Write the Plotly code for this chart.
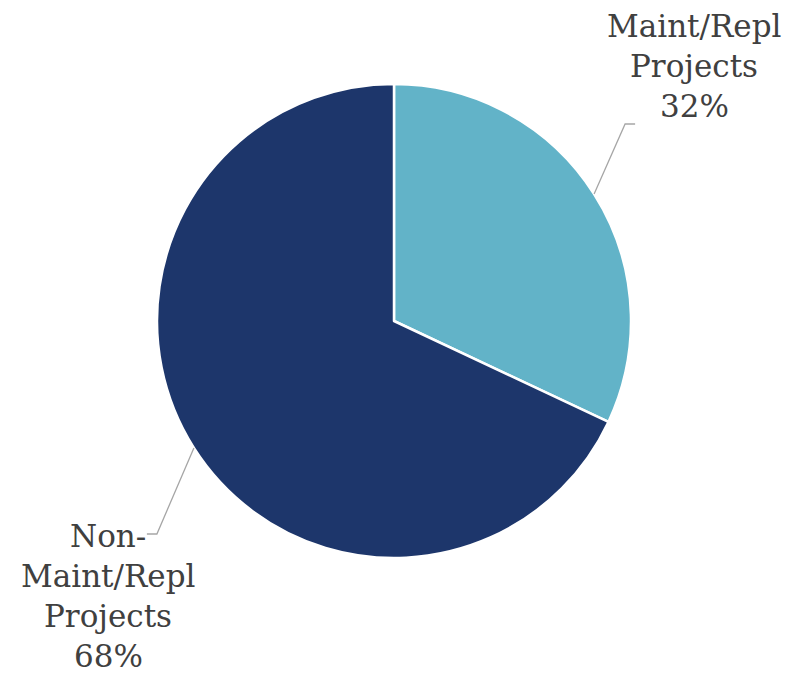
import math
import plotly.graph_objects as go

labels = ["Maint/Repl Projects", "Non-Maint/Repl Projects"]
values = [32, 68]
colors = ["#62B3C8", "#1D366B"]
label_lines = [["Maint/Repl", "Projects", "32%"], ["Non-", "Maint/Repl", "Projects", "68%"]]

W, H = 808, 676
dom_x = [157 / W, 631 / W]
dom_y = [1 - 558 / H, 1 - 84 / H]

fig = go.Figure(go.Pie(
    labels=labels, values=values, sort=False, direction="clockwise", rotation=0,
    marker=dict(colors=colors, line=dict(color="white", width=2.5)),
    textinfo="none", hoverinfo="label+percent", showlegend=False,
    domain=dict(x=dom_x, y=dom_y),
))

cx = (dom_x[0] + dom_x[1]) / 2 * W
cy = (1 - (dom_y[0] + dom_y[1]) / 2) * H
r = min((dom_x[1] - dom_x[0]) * W, (dom_y[1] - dom_y[0]) * H) / 2

total = sum(values)
elbow = [(31, -70, 10), (-37, 86, -10)]
text_anchor = [(694, 26), (108, 536)]
line_gap = 40
font = dict(family="DejaVu Serif", size=31, color="#404040")

cum = 0
shapes = []
annotations = []
for i, v in enumerate(values):
    mid = (cum + v / 2) / total * 2 * math.pi
    cum += v
    px = cx + r * math.sin(mid)
    py = cy - r * math.cos(mid)
    dx, dy, hx = elbow[i]
    ex, ey = px + dx, py + dy
    pts = [(px, py), (ex, ey), (ex + hx, ey)]
    path = "M " + " L ".join(f"{x / W:.5f},{1 - y / H:.5f}" for x, y in pts)
    shapes.append(dict(type="path", xref="paper", yref="paper", path=path,
                       line=dict(color="#A6A6A6", width=1.3)))
    tx, ty = text_anchor[i]
    for j, t in enumerate(label_lines[i]):
        annotations.append(dict(x=tx / W, y=1 - (ty + j * line_gap) / H, xref="paper", yref="paper",
                                text=t, showarrow=False, font=font,
                                xanchor="center", yanchor="middle"))

fig.update_layout(
    width=W, height=H, margin=dict(l=0, r=0, t=0, b=0),
    paper_bgcolor="white", plot_bgcolor="white",
    shapes=shapes, annotations=annotations,
)

fig.write_html("out.html")
